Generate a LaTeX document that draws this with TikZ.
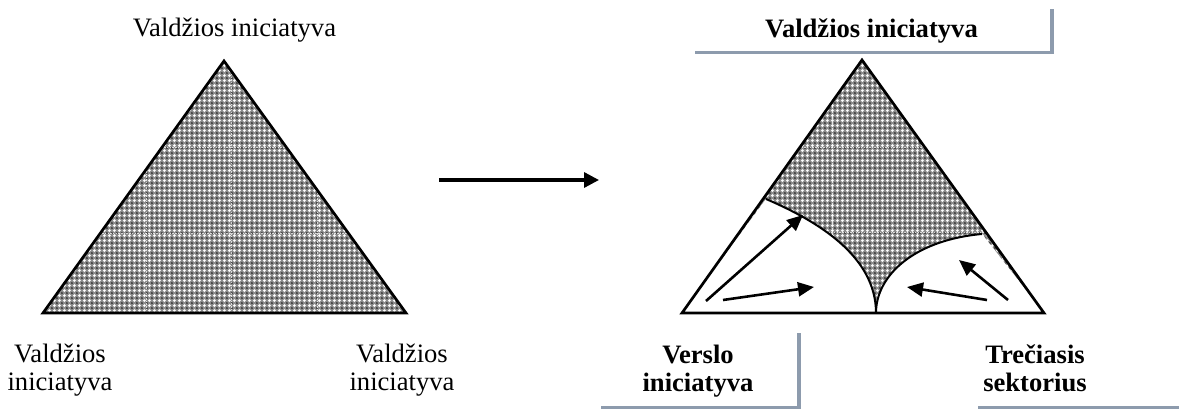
\documentclass[tikz,border=0pt]{standalone}
\usepackage{fontspec}
\setmainfont{Liberation Serif}
\usetikzlibrary{arrows.meta,patterns}

% checkered stipple used to shade the triangles
\pgfdeclarepatterninherentlycolored{stipple}
  {\pgfpointorigin}{\pgfpoint{5.4pt}{5.4pt}}{\pgfpoint{5.4pt}{5.4pt}}
  {%
    \pgfsetfillcolor{black!45}%
    \pgfpathrectangle{\pgfpointorigin}{\pgfpoint{5.4pt}{5.4pt}}\pgfusepath{fill}%
    \pgfsetfillcolor{white}%
    \pgfpathcircle{\pgfpoint{2.7pt}{2.7pt}}{1.6pt}\pgfusepath{fill}%
    \pgfsetfillcolor{black!80}%
    \pgfpathcircle{\pgfpoint{0pt}{0pt}}{1.0pt}%
    \pgfpathcircle{\pgfpoint{5.4pt}{0pt}}{1.0pt}%
    \pgfpathcircle{\pgfpoint{0pt}{5.4pt}}{1.0pt}%
    \pgfpathcircle{\pgfpoint{5.4pt}{5.4pt}}{1.0pt}%
    \pgfusepath{fill}%
  }

\definecolor{rulegray}{RGB}{141,155,173}

\tikzset{
  plainlabel/.style={font=\fontsize{26.6pt}{28pt}\selectfont, align=center, inner sep=0pt, anchor=base},
  boldlabel/.style={font=\fontsize{26.6pt}{28pt}\selectfont\bfseries, align=center, inner sep=0pt, anchor=base},
  shaded/.style={pattern=stipple},
  edge/.style={line width=2.7pt, line join=miter},
  border/.style={line width=2pt},
  seam/.style={white, opacity=0.75, line width=0.8pt, dash pattern=on 1.5pt off 1.2pt},
  flow/.style={line width=2.6pt, -{Triangle[length=16pt,width=14pt]}},
  bigflow/.style={line width=3.3pt, -{Triangle[length=15pt,width=15pt]}},
  rule/.style={rulegray, line width=3.5pt}
}

\begin{document}
\begin{tikzpicture}[x=1pt,y=-1pt]
\useasboundingbox (0,0) rectangle (1179,409);

% ---- left triangle ----
\coordinate (LA) at (224,61);
\coordinate (LL) at (43,313);
\coordinate (LR) at (406,313);
\fill[shaded] (LL) -- (LA) -- (LR) -- cycle;
\begin{scope}
  \clip (LL) -- (LA) -- (LR) -- cycle;
  \foreach \x in {146,231,317} \draw[seam] (\x,55) -- (\x,315);
  \foreach \y in {147,233} \draw[seam] (40,\y) -- (410,\y);
\end{scope}
\draw[edge] (LL) -- (LA) -- (LR) -- cycle;

\node[plainlabel] (ltop) at (234.5,37) {Valdžios iniciatyva};
\node[plainlabel] (lleft) at (60,390) {Valdžios\\iniciatyva};
\node[plainlabel] (lright) at (402,390) {Valdžios\\iniciatyva};

% ---- transition arrow ----
\coordinate (go1) at (439,180);
\coordinate (go2) at (599,180);
\draw[bigflow] (go1) -- (go2);

% ---- right triangle ----
\coordinate (RA) at (862,60);
\coordinate (RL) at (682,313);
\coordinate (RR) at (1044,313);
\coordinate (RM) at (876,313);
\coordinate (RP) at (766,199);
\coordinate (RQ) at (982,234);

\fill[shaded] (RL) -- (RA) -- (RR) -- cycle;
\begin{scope}
  \clip (RL) -- (RA) -- (RR) -- cycle;
  \foreach \x in {747,832,917,1002} \draw[seam] (\x,55) -- (\x,315);
  \foreach \y in {147,232} \draw[seam] (680,\y) -- (1050,\y);
\end{scope}

% regions taken over by business and the third sector
\fill[white] (RL) -- (RP) .. controls (815,220) and (876,255) .. (RM) -- cycle;
\fill[white] (RM) .. controls (876,275) and (915,240) .. (RQ) -- (RR) -- cycle;
\draw[border] (RP) .. controls (815,220) and (876,255) .. (RM);
\draw[border] (RM) .. controls (876,275) and (915,240) .. (RQ);
\draw[edge] (RL) -- (RA) -- (RR) -- cycle;

% growth arrows
\coordinate (b1s) at (706,301); \coordinate (b1e) at (803,215);
\coordinate (b2s) at (723,300); \coordinate (b2e) at (814,287);
\coordinate (t1s) at (987,300); \coordinate (t1e) at (907,287);
\coordinate (t2s) at (1008,300); \coordinate (t2e) at (959,260);
\draw[flow] (b1s) -- (b1e);
\draw[flow] (b2s) -- (b2e);
\draw[flow] (t1s) -- (t1e);
\draw[flow] (t2s) -- (t2e);

% labels with their rules
\node[boldlabel] (rtop) at (871.5,38) {Valdžios iniciatyva};
\node[boldlabel] (rbiz) at (698,391) {Verslo\\iniciatyva};
\node[boldlabel] (rthird) at (1035,391) {Trečiasis\\sektorius};

\coordinate (u1) at (695,52.5);
\coordinate (u2) at (1052,52.5);
\coordinate (u3) at (1052,9);
\draw[rule] (u1) -- (u2) -- (u3);

\coordinate (v1) at (601,407.5);
\coordinate (v2) at (799,407.5);
\coordinate (v3) at (799,333);
\draw[rule] (v1) -- (v2) -- (v3);

\coordinate (w1) at (978,407.5);
\coordinate (w2) at (1179,407.5);
\draw[rule] (w1) -- (w2);
\end{tikzpicture}
\end{document}
